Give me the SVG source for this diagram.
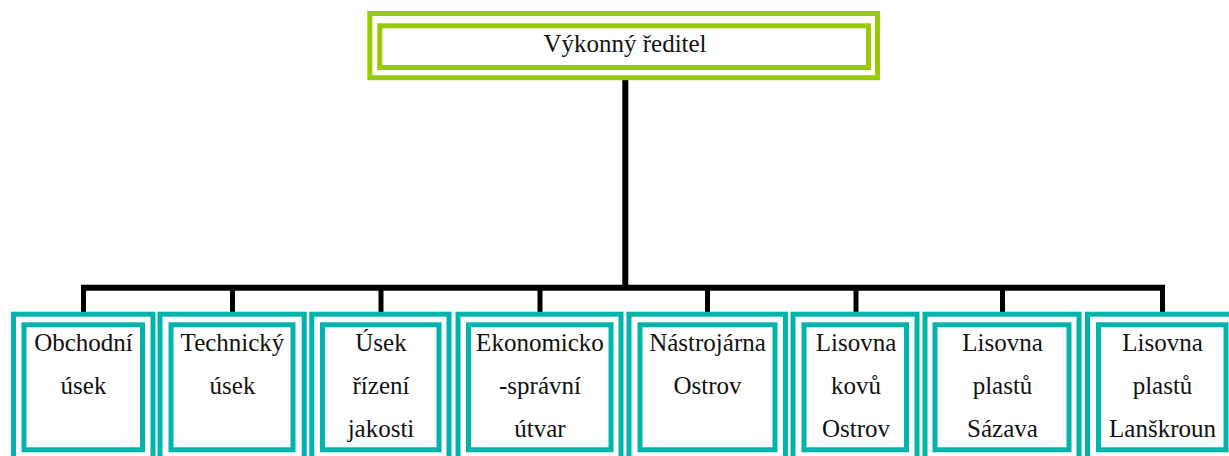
<svg xmlns="http://www.w3.org/2000/svg" width="1229" height="456" viewBox="0 0 1229 456">
  <style>
    .g { fill: none; stroke: #99CC00; stroke-width: 5; }
    .t { fill: none; stroke: #00B4AC; stroke-width: 5; }
    text { font-family: 'Liberation Serif', 'Times New Roman', 'DejaVu Serif', serif; font-size: 25px; fill: #111; text-anchor: middle; }
    .c { stroke: #000; fill: none; }
  </style>
  <rect width="1229" height="456" fill="#fff"/>
  <g id="connectors">
    <line class="c" x1="625.3" y1="79" x2="625.3" y2="288" stroke-width="6"/>
    <line class="c" x1="81" y1="287.7" x2="1165" y2="287.7" stroke-width="6"/>
    <line class="c" x1="83.5" y1="286" x2="83.5" y2="313" stroke-width="5"/>
    <line class="c" x1="232.5" y1="286" x2="232.5" y2="313" stroke-width="5"/>
    <line class="c" x1="381" y1="286" x2="381" y2="313" stroke-width="5"/>
    <line class="c" x1="540" y1="286" x2="540" y2="313" stroke-width="5"/>
    <line class="c" x1="707.5" y1="286" x2="707.5" y2="313" stroke-width="5"/>
    <line class="c" x1="856" y1="286" x2="856" y2="313" stroke-width="5"/>
    <line class="c" x1="1002.5" y1="286" x2="1002.5" y2="313" stroke-width="5"/>
    <line class="c" x1="1162.5" y1="286" x2="1162.5" y2="313" stroke-width="5"/>
  </g>
  <g id="n0">
    <rect class="g" x="369.8" y="13.5" width="507.7" height="64.2"/>
    <rect class="g" x="379.8" y="25.8" width="488.7" height="41.7"/>
    <text x="625" y="51.7" font-family="Liberation Serif, serif">Výkonný ředitel</text>
  </g>
  <g id="n1" font-family="Liberation Serif, serif">
    <rect class="t" x="13.5" y="314.2" width="139.5" height="160"/>
    <rect class="t" x="24" y="324.8" width="118.5" height="125"/>
    <text x="83.5" y="351">Obchodní</text>
    <text x="83.5" y="394">úsek</text>
  </g>
  <g id="n2">
    <rect class="t" x="160" y="314.2" width="144.2" height="160"/>
    <rect class="t" x="171" y="324.8" width="122" height="125"/>
    <text x="232.5" y="351">Technický</text>
    <text x="232.5" y="394">úsek</text>
  </g>
  <g id="n3">
    <rect class="t" x="311.8" y="314.2" width="137.2" height="160"/>
    <rect class="t" x="322.5" y="324.8" width="116.5" height="125"/>
    <text x="381" y="351">Úsek</text>
    <text x="381" y="394">řízení</text>
    <text x="381" y="437">jakosti</text>
  </g>
  <g id="n4">
    <rect class="t" x="458" y="314.2" width="163" height="160"/>
    <rect class="t" x="468.5" y="324.8" width="142.5" height="125"/>
    <text x="540" y="351">Ekonomicko</text>
    <text x="540" y="394">-správní</text>
    <text x="540" y="437">útvar</text>
  </g>
  <g id="n5">
    <rect class="t" x="629" y="314.2" width="156.5" height="160"/>
    <rect class="t" x="640" y="324.8" width="135" height="125"/>
    <text x="707.5" y="351">Nástrojárna</text>
    <text x="707.5" y="394">Ostrov</text>
  </g>
  <g id="n6">
    <rect class="t" x="793" y="314.2" width="124" height="160"/>
    <rect class="t" x="804" y="324.8" width="102.5" height="125"/>
    <text x="856" y="351">Lisovna</text>
    <text x="856" y="394">kovů</text>
    <text x="856" y="437">Ostrov</text>
  </g>
  <g id="n7">
    <rect class="t" x="925" y="314.2" width="154" height="160"/>
    <rect class="t" x="935" y="324.8" width="134" height="125"/>
    <text x="1002.5" y="351">Lisovna</text>
    <text x="1002.5" y="394">plastů</text>
    <text x="1002.5" y="437">Sázava</text>
  </g>
  <g id="n8">
    <rect class="t" x="1087.5" y="314.2" width="150" height="160"/>
    <rect class="t" x="1098.5" y="324.8" width="127.5" height="125"/>
    <text x="1162.5" y="351">Lisovna</text>
    <text x="1162.5" y="394">plastů</text>
    <text x="1162.5" y="437">Lanškroun</text>
  </g>
</svg>
